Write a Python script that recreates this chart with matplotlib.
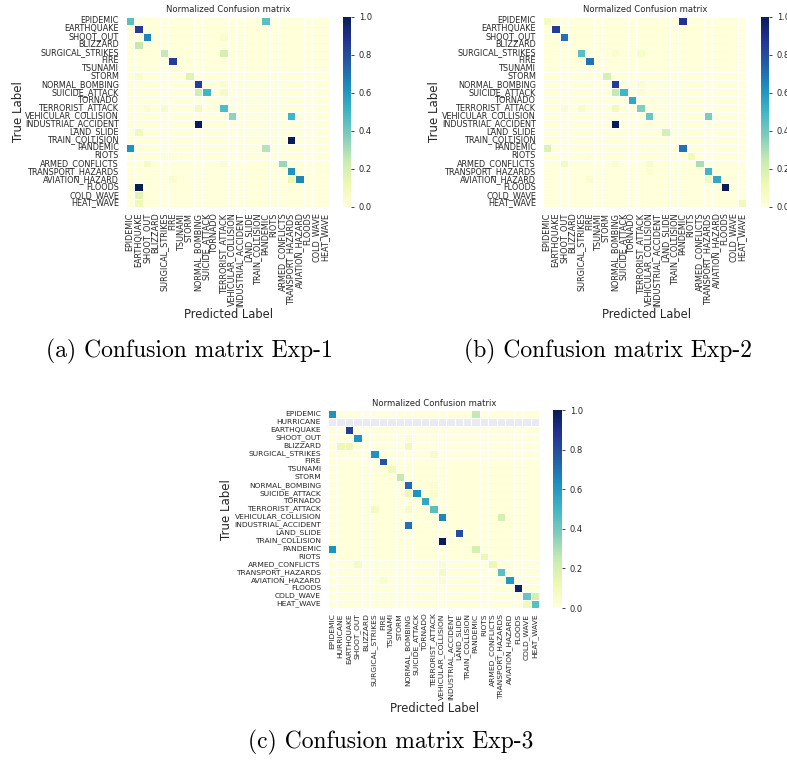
import numpy as np
import matplotlib
matplotlib.use("Agg")
import matplotlib.pyplot as plt
import seaborn as sns

labels_ab = ["EPIDEMIC", "EARTHQUAKE", "SHOOT_OUT", "BLIZZARD", "SURGICAL_STRIKES",
             "FIRE", "TSUNAMI", "STORM", "NORMAL_BOMBING", "SUICIDE_ATTACK", "TORNADO",
             "TERRORIST_ATTACK", "VEHICULAR_COLLISION", "INDUSTRIAL_ACCIDENT", "LAND_SLIDE",
             "TRAIN_COLLISION", "PANDEMIC", "RIOTS", "ARMED_CONFLICTS", "TRANSPORT_HAZARDS",
             "AVIATION_HAZARD", "FLOODS", "COLD_WAVE", "HEAT_WAVE"]
labels_c = ["EPIDEMIC", "HURRICANE", "EARTHQUAKE", "SHOOT_OUT", "BLIZZARD", "SURGICAL_STRIKES",
            "FIRE", "TSUNAMI", "STORM", "NORMAL_BOMBING", "SUICIDE_ATTACK", "TORNADO",
            "TERRORIST_ATTACK", "VEHICULAR_COLLISION", "INDUSTRIAL_ACCIDENT", "LAND_SLIDE",
            "TRAIN_COLLISION", "PANDEMIC", "RIOTS", "ARMED_CONFLICTS", "TRANSPORT_HAZARDS",
            "AVIATION_HAZARD", "FLOODS", "COLD_WAVE", "HEAT_WAVE"]
missing_rows_c = ["HURRICANE"]

# (true label, predicted label, normalized value)
exp1_cells = [
    ("EPIDEMIC", "EPIDEMIC", 0.45), ("EPIDEMIC", "PANDEMIC", 0.45),
    ("EARTHQUAKE", "EARTHQUAKE", 0.85),
    ("SHOOT_OUT", "SHOOT_OUT", 0.65), ("SHOOT_OUT", "TERRORIST_ATTACK", 0.04),
    ("BLIZZARD", "EARTHQUAKE", 0.25),
    ("SURGICAL_STRIKES", "SURGICAL_STRIKES", 0.25), ("SURGICAL_STRIKES", "TERRORIST_ATTACK", 0.2),
    ("FIRE", "FIRE", 0.85),
    ("STORM", "STORM", 0.17), ("STORM", "EARTHQUAKE", 0.04),
    ("NORMAL_BOMBING", "NORMAL_BOMBING", 0.85), ("NORMAL_BOMBING", "TERRORIST_ATTACK", 0.04),
    ("SUICIDE_ATTACK", "NORMAL_BOMBING", 0.22), ("SUICIDE_ATTACK", "SUICIDE_ATTACK", 0.5),
    ("SUICIDE_ATTACK", "TERRORIST_ATTACK", 0.07),
    ("TERRORIST_ATTACK", "TERRORIST_ATTACK", 0.47), ("TERRORIST_ATTACK", "NORMAL_BOMBING", 0.09),
    ("TERRORIST_ATTACK", "SURGICAL_STRIKES", 0.05), ("TERRORIST_ATTACK", "SHOOT_OUT", 0.03),
    ("VEHICULAR_COLLISION", "VEHICULAR_COLLISION", 0.35),
    ("VEHICULAR_COLLISION", "TRANSPORT_HAZARDS", 0.5),
    ("INDUSTRIAL_ACCIDENT", "NORMAL_BOMBING", 1.0),
    ("LAND_SLIDE", "EARTHQUAKE", 0.1),
    ("TRAIN_COLLISION", "TRANSPORT_HAZARDS", 1.0),
    ("PANDEMIC", "EPIDEMIC", 0.62), ("PANDEMIC", "PANDEMIC", 0.28),
    ("RIOTS", "SURGICAL_STRIKES", 0.02), ("RIOTS", "FIRE", 0.02),
    ("ARMED_CONFLICTS", "ARMED_CONFLICTS", 0.33), ("ARMED_CONFLICTS", "SHOOT_OUT", 0.07),
    ("ARMED_CONFLICTS", "TERRORIST_ATTACK", 0.03),
    ("TRANSPORT_HAZARDS", "TRANSPORT_HAZARDS", 0.62),
    ("AVIATION_HAZARD", "AVIATION_HAZARD", 0.65), ("AVIATION_HAZARD", "TRANSPORT_HAZARDS", 0.12),
    ("AVIATION_HAZARD", "FIRE", 0.04),
    ("FLOODS", "EARTHQUAKE", 1.0),
    ("COLD_WAVE", "EARTHQUAKE", 0.16),
    ("HEAT_WAVE", "EARTHQUAKE", 0.11),
]

exp2_cells = [
    ("EPIDEMIC", "EPIDEMIC", 0.08), ("EPIDEMIC", "PANDEMIC", 0.88),
    ("EARTHQUAKE", "EARTHQUAKE", 0.85),
    ("SHOOT_OUT", "SHOOT_OUT", 0.7),
    ("SURGICAL_STRIKES", "SURGICAL_STRIKES", 0.45), ("SURGICAL_STRIKES", "NORMAL_BOMBING", 0.03),
    ("SURGICAL_STRIKES", "TERRORIST_ATTACK", 0.05),
    ("FIRE", "FIRE", 0.7),
    ("STORM", "STORM", 0.2),
    ("NORMAL_BOMBING", "NORMAL_BOMBING", 0.85), ("NORMAL_BOMBING", "TERRORIST_ATTACK", 0.03),
    ("SUICIDE_ATTACK", "NORMAL_BOMBING", 0.25), ("SUICIDE_ATTACK", "SUICIDE_ATTACK", 0.5),
    ("SUICIDE_ATTACK", "TERRORIST_ATTACK", 0.03),
    ("TORNADO", "TORNADO", 0.55),
    ("TERRORIST_ATTACK", "TERRORIST_ATTACK", 0.37), ("TERRORIST_ATTACK", "NORMAL_BOMBING", 0.1),
    ("TERRORIST_ATTACK", "SURGICAL_STRIKES", 0.05), ("TERRORIST_ATTACK", "SHOOT_OUT", 0.03),
    ("VEHICULAR_COLLISION", "VEHICULAR_COLLISION", 0.42),
    ("VEHICULAR_COLLISION", "TRANSPORT_HAZARDS", 0.38),
    ("INDUSTRIAL_ACCIDENT", "NORMAL_BOMBING", 1.0),
    ("LAND_SLIDE", "LAND_SLIDE", 0.2),
    ("PANDEMIC", "EPIDEMIC", 0.18), ("PANDEMIC", "PANDEMIC", 0.7),
    ("RIOTS", "RIOTS", 0.1), ("RIOTS", "FIRE", 0.02),
    ("ARMED_CONFLICTS", "ARMED_CONFLICTS", 0.3), ("ARMED_CONFLICTS", "SHOOT_OUT", 0.08),
    ("ARMED_CONFLICTS", "VEHICULAR_COLLISION", 0.05), ("ARMED_CONFLICTS", "NORMAL_BOMBING", 0.03),
    ("TRANSPORT_HAZARDS", "TRANSPORT_HAZARDS", 0.5),
    ("TRANSPORT_HAZARDS", "VEHICULAR_COLLISION", 0.03),
    ("AVIATION_HAZARD", "AVIATION_HAZARD", 0.55), ("AVIATION_HAZARD", "TRANSPORT_HAZARDS", 0.1),
    ("AVIATION_HAZARD", "FIRE", 0.03),
    ("FLOODS", "FLOODS", 1.0),
    ("HEAT_WAVE", "HEAT_WAVE", 0.1),
]

exp3_cells = [
    ("EPIDEMIC", "EPIDEMIC", 0.62), ("EPIDEMIC", "PANDEMIC", 0.25),
    ("EARTHQUAKE", "EARTHQUAKE", 0.85),
    ("SHOOT_OUT", "SHOOT_OUT", 0.62), ("SHOOT_OUT", "NORMAL_BOMBING", 0.03),
    ("BLIZZARD", "HURRICANE", 0.12), ("BLIZZARD", "EARTHQUAKE", 0.12),
    ("BLIZZARD", "NORMAL_BOMBING", 0.1),
    ("SURGICAL_STRIKES", "SURGICAL_STRIKES", 0.62), ("SURGICAL_STRIKES", "TERRORIST_ATTACK", 0.05),
    ("FIRE", "FIRE", 0.78),
    ("TSUNAMI", "TSUNAMI", 0.1),
    ("STORM", "STORM", 0.25),
    ("NORMAL_BOMBING", "NORMAL_BOMBING", 0.72), ("NORMAL_BOMBING", "TERRORIST_ATTACK", 0.03),
    ("SUICIDE_ATTACK", "NORMAL_BOMBING", 0.12), ("SUICIDE_ATTACK", "SUICIDE_ATTACK", 0.62),
    ("SUICIDE_ATTACK", "TERRORIST_ATTACK", 0.04),
    ("TORNADO", "TORNADO", 0.55),
    ("TERRORIST_ATTACK", "TERRORIST_ATTACK", 0.45), ("TERRORIST_ATTACK", "SURGICAL_STRIKES", 0.08),
    ("TERRORIST_ATTACK", "NORMAL_BOMBING", 0.06),
    ("VEHICULAR_COLLISION", "VEHICULAR_COLLISION", 0.65),
    ("VEHICULAR_COLLISION", "TRANSPORT_HAZARDS", 0.2),
    ("INDUSTRIAL_ACCIDENT", "NORMAL_BOMBING", 0.7),
    ("LAND_SLIDE", "LAND_SLIDE", 0.8),
    ("TRAIN_COLLISION", "VEHICULAR_COLLISION", 1.0),
    ("PANDEMIC", "EPIDEMIC", 0.62), ("PANDEMIC", "PANDEMIC", 0.2),
    ("RIOTS", "RIOTS", 0.12),
    ("ARMED_CONFLICTS", "ARMED_CONFLICTS", 0.12), ("ARMED_CONFLICTS", "SHOOT_OUT", 0.07),
    ("ARMED_CONFLICTS", "VEHICULAR_COLLISION", 0.03),
    ("TRANSPORT_HAZARDS", "TRANSPORT_HAZARDS", 0.45),
    ("TRANSPORT_HAZARDS", "VEHICULAR_COLLISION", 0.08),
    ("AVIATION_HAZARD", "AVIATION_HAZARD", 0.6), ("AVIATION_HAZARD", "FIRE", 0.04),
    ("AVIATION_HAZARD", "VEHICULAR_COLLISION", 0.03),
    ("FLOODS", "FLOODS", 0.97),
    ("COLD_WAVE", "COLD_WAVE", 0.42), ("COLD_WAVE", "HEAT_WAVE", 0.2),
    ("HEAT_WAVE", "COLD_WAVE", 0.1), ("HEAT_WAVE", "HEAT_WAVE", 0.45),
]

captions = ["(a) Confusion matrix Exp-1", "(b) Confusion matrix Exp-2", "(c) Confusion matrix Exp-3"]
title_text = "Normalized Confusion matrix"
xlabel_text = "Predicted Label"
ylabel_text = "True Label"
cbar_ticks = [0.0, 0.2, 0.4, 0.6, 0.8, 1.0]


def build(labels, cells, missing=()):
    idx = {l: i for i, l in enumerate(labels)}
    m = np.zeros((len(labels), len(labels)))
    for t, p, v in cells:
        m[idx[t], idx[p]] = v
    for r in missing:
        m[idx[r], :] = np.nan
    return m


W, H = 787, 760
fig = plt.figure(figsize=(W / 100, H / 100), dpi=100)
TXT = "#262626"

cmap = plt.get_cmap("YlGnBu").copy()
cmap.set_bad("#eaeaf2")


def px_axes(x0, y0, x1, y1):
    return fig.add_axes([x0 / W, 1 - y1 / H, (x1 - x0) / W, (y1 - y0) / H])


def panel(mat, labels, hm_box, cb_box, title_xy, xl_xy, yl_xy, cap, cap_xy, tick_fs):
    ax = px_axes(*hm_box)
    cax = px_axes(*cb_box)
    ax.set_facecolor("#eaeaf2")
    sns.heatmap(mat, ax=ax, cbar_ax=cax, cmap=cmap, vmin=0, vmax=1,
                linewidths=0.5, linecolor="white",
                xticklabels=labels, yticklabels=labels)
    ax.tick_params(axis="both", length=0, labelsize=tick_fs, labelcolor=TXT)
    ax.tick_params(axis="y", pad=5)
    ax.tick_params(axis="x", pad=4)
    plt.setp(ax.get_xticklabels(), rotation=90)
    plt.setp(ax.get_yticklabels(), rotation=0)
    ax.set_xlabel("")
    ax.set_ylabel("")
    cax.set_yticks(cbar_ticks)
    cax.set_yticklabels([f"{t:.1f}" for t in cbar_ticks])
    cax.tick_params(labelsize=6, length=2.5, width=0.6, pad=3, colors=TXT)
    for s in cax.spines.values():
        s.set_visible(False)
    fig.text(title_xy[0] / W, 1 - title_xy[1] / H, title_text, ha="center", va="center",
             fontsize=6.1, color=TXT)
    fig.text(xl_xy[0] / W, 1 - xl_xy[1] / H, xlabel_text, ha="center", va="center",
             fontsize=8.3, color=TXT)
    fig.text(yl_xy[0] / W, 1 - yl_xy[1] / H, ylabel_text, ha="center", va="center",
             fontsize=8.5, color=TXT, rotation=90)
    fig.text(cap_xy[0] / W, 1 - cap_xy[1] / H, cap, ha="center", va="center",
             fontsize=17, family="cmr10", color="black")


m1 = build(labels_ab, exp1_cells)
m2 = build(labels_ab, exp2_cells)
m3 = build(labels_c, exp3_cells, missing_rows_c)

panel(m1, labels_ab, (126, 17, 329, 207), (343, 17, 351, 207),
      (228, 9), (228, 314), (18, 112), captions[0], (189, 351), 5.85)
panel(m2, labels_ab, (543, 17, 746, 207), (761, 17, 769, 207),
      (645, 9), (646, 314), (434, 112), captions[1], (608, 351), 5.85)
panel(m3, labels_c, (328, 410, 539, 608), (553, 410, 562, 608),
      (434, 403), (434, 708), (226, 510), captions[2], (391, 742), 5.4)

fig.savefig("out.png", dpi=100, facecolor="white")
